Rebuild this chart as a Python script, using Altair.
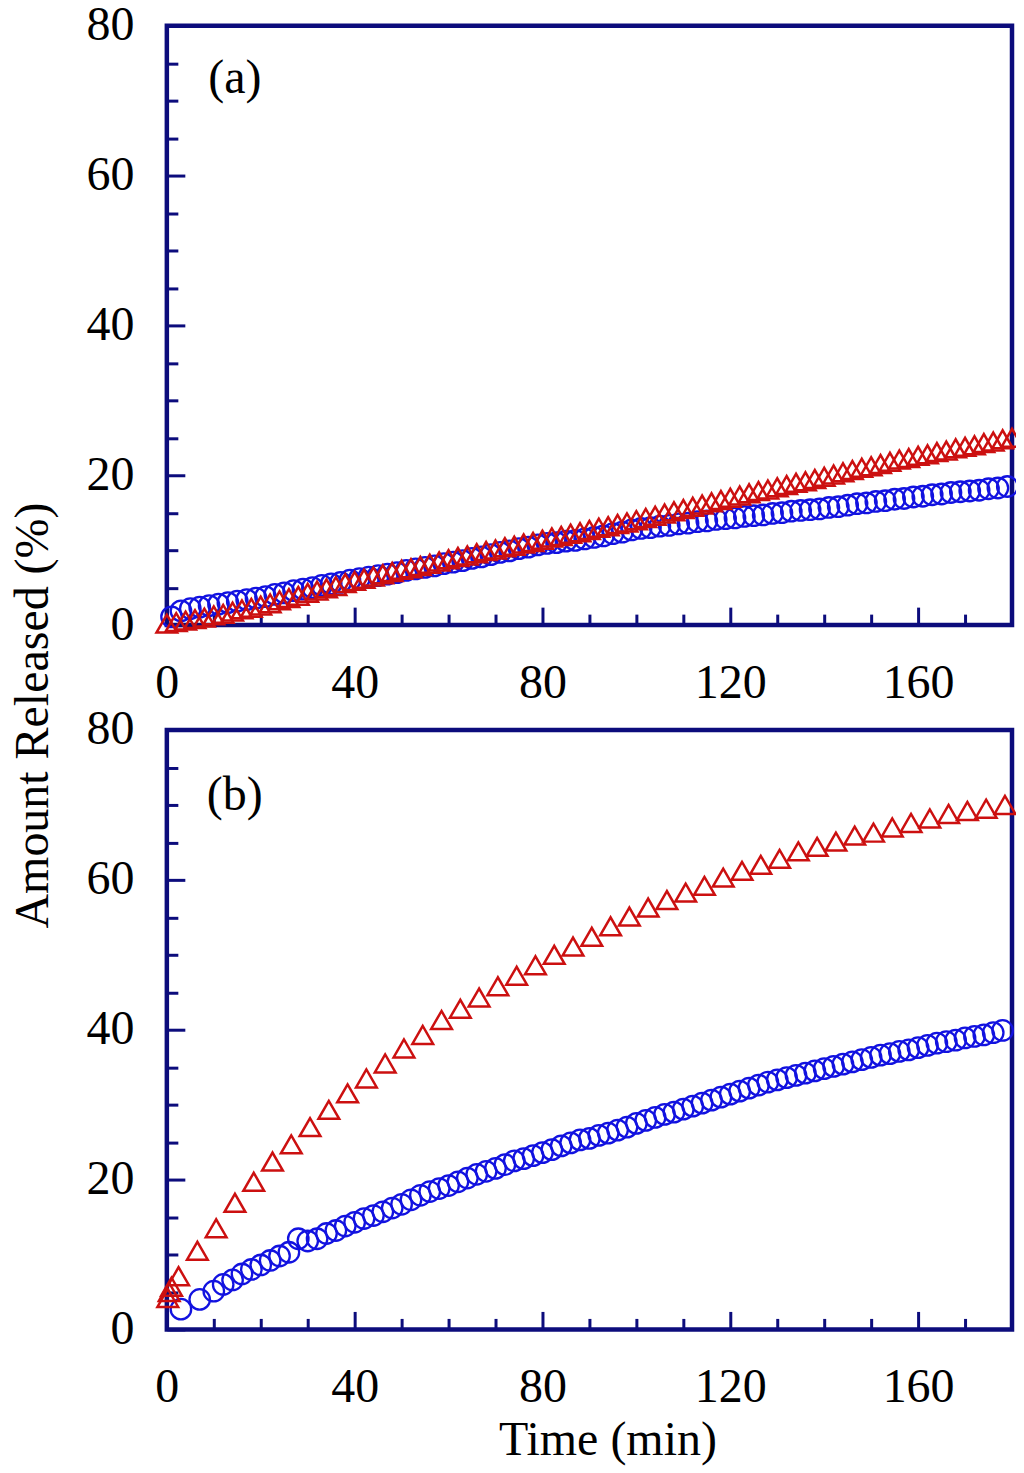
import altair as alt
import pandas as pd

FONT = "Liberation Serif"
NAVY = "#0c0c7c"
RED = "#cc1010"
BLUE = "#1212e0"
FS = 48

# ---------------- data: panel (a) ----------------
a_tri_t = list(range(0, 181, 2))
a_tri_v = [0.2, 0.4, 0.6, 0.8, 1.0, 1.3, 1.5, 1.8, 2.1, 2.3,
           2.6, 2.9, 3.3, 3.6, 3.9, 4.3, 4.6, 4.9, 5.2, 5.6,
           5.9, 6.2, 6.5, 6.8, 7.1, 7.4, 7.6, 7.9, 8.2, 8.5,
           8.8, 9.1, 9.3, 9.6, 9.9, 10.1, 10.4, 10.6, 10.9, 11.1,
           11.4, 11.7, 11.9, 12.2, 12.4, 12.7, 13.0, 13.2, 13.5, 13.7,
           14.0, 14.3, 14.6, 14.9, 15.2, 15.5, 15.8, 16.1, 16.4, 16.7,
           17.0, 17.3, 17.6, 17.9, 18.1, 18.4, 18.7, 19.0, 19.2, 19.5,
           19.8, 20.1, 20.4, 20.7, 21.0, 21.2, 21.5, 21.8, 22.1, 22.3,
           22.6, 22.8, 23.1, 23.3, 23.6, 23.8, 24.0, 24.3, 24.5, 24.8,
           25.0]
a_cir_t = list(range(1, 180, 2))
a_cir_v = [1.1, 1.9, 2.2, 2.4, 2.6, 2.8, 3.0, 3.2, 3.4, 3.6,
           3.8, 4.1, 4.3, 4.6, 4.8, 5.0, 5.3, 5.5, 5.7, 6.0,
           6.2, 6.4, 6.6, 6.8, 7.0, 7.3, 7.5, 7.7, 7.9, 8.2,
           8.4, 8.6, 8.9, 9.1, 9.4, 9.7, 9.9, 10.2, 10.4, 10.7,
           10.9, 11.0, 11.2, 11.3, 11.5, 11.7, 11.9, 12.2, 12.4, 12.7,
           12.9, 13.0, 13.2, 13.3, 13.5, 13.6, 13.8, 13.9, 14.1, 14.2,
           14.3, 14.5, 14.6, 14.7, 14.9, 15.0, 15.2, 15.3, 15.4, 15.5,
           15.7, 15.8, 16.0, 16.2, 16.3, 16.5, 16.6, 16.8, 16.9, 17.1,
           17.2, 17.4, 17.5, 17.7, 17.8, 17.9, 18.0, 18.2, 18.3, 18.5]

# ---------------- data: panel (b) ----------------
b_tri_t = [0.2, 0.5, 1.0, 2.5, 6.5, 10.5, 14.5, 18.5, 22.5, 26.5, 30.5,
           34.5, 38.5, 42.5, 46.5, 50.5, 54.5, 58.5, 62.5, 66.5, 70.5,
           74.5, 78.5, 82.5, 86.5, 90.5, 94.5, 98.5, 102.5, 106.5, 110.5,
           114.5, 118.5, 122.5, 126.5, 130.5, 134.5, 138.5, 142.5, 146.5,
           150.5, 154.5, 158.5, 162.5, 166.5, 170.5, 174.5, 178.5]
b_tri_v = [4.2, 5.0, 5.7, 7.1, 10.5, 13.5, 16.9, 19.7, 22.4, 24.7, 27.0,
           29.3, 31.5, 33.5, 35.5, 37.5, 39.3, 41.3, 42.8, 44.3, 45.8,
           47.2, 48.6, 50.0, 51.1, 52.4, 53.8, 55.1, 56.3, 57.3, 58.3,
           59.2, 60.3, 61.2, 62.0, 62.8, 63.8, 64.4, 65.1, 65.9,
           66.3, 67.0, 67.6, 68.2, 68.8, 69.2, 69.5, 70.0]
b_cir_t = [3, 7] + list(range(10, 179, 2))
b_cir_v = [2.7, 4.0,
           5.1, 6.0, 6.6, 7.4, 8.0, 8.6, 9.2, 9.8, 10.3, 12.1,
           11.8, 12.1, 12.8, 13.2, 13.8, 14.3, 14.8, 15.2, 15.7, 16.2,
           16.7, 17.3, 17.9, 18.4, 18.8, 19.2, 19.7, 20.2, 20.7, 21.1,
           21.5, 22.0, 22.5, 22.8, 23.2, 23.6, 24.0, 24.5, 24.9, 25.3,
           25.5, 25.9, 26.2, 26.6, 27.0, 27.5, 27.9, 28.3, 28.7, 29.0,
           29.4, 29.8, 30.2, 30.6, 31.0, 31.4, 31.8, 32.2, 32.6, 33.0,
           33.3, 33.6, 33.9, 34.2, 34.5, 34.8, 35.1, 35.4, 35.7, 36.0,
           36.3, 36.6, 36.8, 37.1, 37.3, 37.6, 37.9, 38.2, 38.4, 38.6,
           38.9, 39.1, 39.3, 39.6, 39.9]

X_MAJOR = [0, 40, 80, 120, 160]
X_MINOR = [10, 20, 30, 50, 60, 70, 90, 100, 110, 130, 140, 150, 170]
Y_MAJOR = [0, 20, 40, 60, 80]
Y_MINOR = [5, 10, 15, 25, 30, 35, 45, 50, 55, 65, 70, 75]

W, H = 846, 600


def panel(tri_t, tri_v, cir_t, cir_v, tag, tag_y, bottom):
    xs = alt.Scale(domain=[0, 180], nice=False, zero=False)
    ys = alt.Scale(domain=[0, 80], nice=False, zero=False)
    tri = pd.DataFrame({"t": tri_t, "v": tri_v})
    cir = pd.DataFrame({"t": cir_t, "v": cir_v})

    common_x = dict(values=X_MAJOR, ticks=False, domain=False, grid=False,
                    labelFont=FONT, labelFontSize=FS, labelColor="black",
                    labelPadding=34, labelFlush=False, orient="bottom")
    common_y = dict(values=Y_MAJOR, ticks=False, domain=False, grid=False,
                    labelFont=FONT, labelFontSize=FS, labelColor="black",
                    labelPadding=33, labelFlush=False, orient="left")
    if bottom:
        x_lab_axis = alt.Axis(title="Time (min)", titleFont=FONT,
                              titleFontSize=FS, titleFontWeight="normal", titleColor="black",
                              titleX=441, titleY=111, titleBaseline="middle",
                              titleAlign="center", **common_x)
        y_lab_axis = alt.Axis(title="Amount Released (%)", titleFont=FONT,
                              titleFontSize=FS, titleFontWeight="normal", titleColor="black",
                              titleAngle=-90, titleX=-133, titleY=-15,
                              titleBaseline="middle", titleAlign="center", **common_y)
    else:
        x_lab_axis = alt.Axis(title=None, **common_x)
        y_lab_axis = alt.Axis(title=None, **common_y)

    def tick_axis(vals, size, orient):
        return alt.Axis(values=vals, labels=False, domain=False, grid=False, title=None,
                        ticks=True, tickSize=size, tickWidth=3, tickColor=NAVY,
                        offset=-size, orient=orient)

    tri_layer = alt.Chart(tri).mark_point(
        shape="triangle-up", filled=False, color=RED, size=430, strokeWidth=2.5, opacity=1
    ).encode(
        x=alt.X("t:Q", scale=xs, axis=x_lab_axis),
        y=alt.Y("v:Q", scale=ys, axis=y_lab_axis),
    )
    cir_layer = alt.Chart(cir).mark_point(
        shape="circle", filled=False, color=BLUE, size=420, strokeWidth=2.3, opacity=1
    ).encode(
        x=alt.X("t:Q", scale=xs, axis=tick_axis(X_MAJOR, 18, "bottom")),
        y=alt.Y("v:Q", scale=ys, axis=tick_axis(Y_MAJOR, 18, "left")),
    )
    minor_layer = alt.Chart(tri).mark_point(opacity=0).encode(
        x=alt.X("t:Q", scale=xs, axis=tick_axis(X_MINOR, 11, "bottom")),
        y=alt.Y("v:Q", scale=ys, axis=tick_axis(Y_MINOR, 11, "left")),
    )
    tag_layer = alt.Chart(pd.DataFrame({"lab": [tag]})).mark_text(
        font=FONT, fontSize=FS, color="black", align="center", baseline="middle"
    ).encode(text="lab:N", x=alt.value(68), y=alt.value(tag_y))

    return alt.layer(minor_layer, cir_layer, tri_layer, tag_layer).resolve_axis(
        x="independent", y="independent"
    ).properties(width=W, height=H)


top = panel(a_tri_t, a_tri_v, a_cir_t, a_cir_v, "(a)", 53, False)
bot = panel(b_tri_t, b_tri_v, b_cir_t, b_cir_v, "(b)", 66, True)

chart = alt.vconcat(top, bot, spacing=105, bounds="flush").properties(
    padding={"left": -1, "top": -10, "right": -14, "bottom": 0}
).configure(
    background="white",
    view=alt.ViewConfig(stroke=NAVY, strokeWidth=4.5),
)

chart.save("out.html", embed_options={"renderer": "svg", "actions": False})
